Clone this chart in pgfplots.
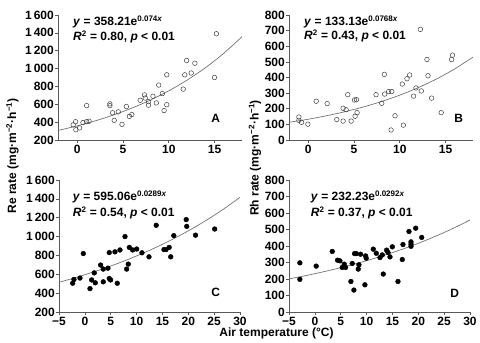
\documentclass[border=0pt]{standalone}
\usepackage{fontspec}
\setmainfont{Liberation Sans}
\usepackage{pgfplots}
\pgfplotsset{compat=1.18}

\pgfplotsset{
  panel/.style={
    scale only axis,
    axis x line*=bottom, axis y line*=left,
    axis line style={-, black!65, line width=0.6pt},
    tick style={black!65, line width=0.6pt},
    tick align=outside,
    major tick length=3pt,
    tick label style={font=\fontsize{12}{14}\selectfont\bfseries, inner sep=1pt},
    xticklabel style={yshift=-1.2pt},
    clip=false,
  },
  openm/.style={only marks, mark=o, mark size=2.3pt, mark options={draw=black!75, line width=0.5pt}},
  fillm/.style={only marks, mark=*, mark size=2.4pt, mark options={draw=black, fill=black}},
  fitc/.style={black!55, line width=0.7pt, smooth, no markers},
}
\newcommand{\bff}{\fontsize{12}{14}\selectfont\bfseries}

\begin{document}
\begin{tikzpicture}
\useasboundingbox (0,0) rectangle (480pt,343pt);

% ---------- A ----------
\begin{axis}[panel, at={(58pt,203pt)}, anchor=south west, width=184pt, height=125pt,
  xmin=-2.1, xmax=18, ymin=200, ymax=1600,
  xtick={0,5,10,15}, xticklabels={0,5,10,15},
  ytick={200,400,600,800,1000,1200,1400,1600},
  yticklabels={200,400,600,800,1\,000,1\,200,1\,400,1\,600}]
\addplot[fitc] table {
-2.1 306.7
0 358.2
2 415.3
4 481.6
6 558.4
8 647.5
10 750.8
12 870.5
14 1009.4
16 1170.4
18 1357.1
};
\addplot[openm] table {
-0.44 370
-0.18 405
-0.15 315
0.26 335
0.63 395
1.03 585
1.03 405
1.29 410
3.57 605
3.57 585
3.86 505
4.04 420
4.49 515
4.89 375
5.37 575
5.70 465
5.96 485
6.88 645
7.35 705
7.43 670
7.79 630
7.79 590
8.27 690
8.64 615
8.90 815
9.30 720
9.49 530
9.78 930
9.78 595
11.58 770
11.75 930
11.95 1090
12.45 950
12.85 1060
15.0 900
15.2 1390
};
\end{axis}

% ---------- B ----------
\begin{axis}[panel, at={(289pt,203pt)}, anchor=south west, width=184pt, height=125pt,
  xmin=-2.1, xmax=18, ymin=0, ymax=800,
  xtick={0,5,10,15}, xticklabels={0,5,10,15},
  ytick={0,100,...,800}, yticklabels={0,100,200,300,400,500,600,700,800}]
\addplot[fitc] table {
-2.1 113.3
0 133.1
2 155.2
4 181.0
6 211.1
8 246.1
10 287.0
12 334.6
14 390.1
16 454.9
18 530.5
};
\addplot[openm] table {
-1.02 147
-1.02 126
-0.73 113
-0.04 101
0.87 248
2.07 233
3.12 131
3.81 203
3.81 121
4.14 194
4.32 290
4.69 121
5.05 256
5.27 258
5.12 152
5.34 175
7.41 290
8.03 235
8.32 420
8.35 294
8.79 310
9.12 310
9.05 64
9.48 155
10.28 358
10.39 95
10.79 392
11.08 416
11.51 281
11.77 333
12.25 708
12.35 314
12.97 515
13.08 411
13.48 268
14.53 175
15.66 515
15.76 543
};
\end{axis}

% ---------- C ----------
\begin{axis}[panel, at={(59pt,31pt)}, anchor=south west, width=181pt, height=132pt,
  xmin=-5, xmax=30, ymin=200, ymax=1600,
  xtick={-5,0,...,30}, xticklabels={−5,0,5,10,15,20,25,30},
  ytick={200,400,600,800,1000,1200,1400,1600},
  yticklabels={200,400,600,800,1\,000,1\,200,1\,400,1\,600}]
\addplot[fitc] table {
-5 515.0
-2.5 553.6
0 595.1
2.5 639.6
5 687.6
7.5 739.1
10 794.5
12.5 854.0
15 917.9
17.5 986.7
20 1060.6
22.5 1140.1
25 1225.5
27.5 1317.4
30 1416.1
};
\addplot[fillm] table {
-2.36 505
-2.11 545
-0.95 560
-0.3 820
0.99 448
1.31 540
1.82 615
2.01 510
3.05 698
3.56 655
3.56 520
4.47 665
4.72 555
4.72 830
4.98 540
5.82 838
6.27 505
6.79 858
7.76 1000
8.08 655
8.4 708
8.6 885
9.24 858
10.02 868
11.04 828
12.4 785
13.8 1120
15.3 862
15.7 862
16.3 885
16.6 785
17.2 1010
19.6 1180
19.7 1108
21.4 1015
25.1 1080
};
\end{axis}

% ---------- D ----------
\begin{axis}[panel, at={(289pt,31pt)}, anchor=south west, width=181pt, height=132pt,
  xmin=-5, xmax=30, ymin=0, ymax=800,
  xtick={-5,0,...,30}, xticklabels={−5,0,5,10,15,20,25,30},
  ytick={0,100,...,800}, yticklabels={0,100,200,300,400,500,600,700,800}]
\addplot[fitc] table {
-5 200.7
-2.5 215.9
0 232.2
2.5 249.8
5 268.7
7.5 289.1
10 311.0
12.5 334.5
15 359.9
17.5 387.1
20 416.4
22.5 448.0
25 481.9
27.5 518.4
30 557.6
};
\addplot[fillm] table {
-2.9 298
-2.9 198
0.26 278
3.36 367
4.39 314
4.84 310
5.29 270
5.68 290
5.94 270
6.97 185
7.23 294
7.68 354
8.0 354
7.55 133
8.39 260
8.52 286
8.84 350
9.68 165
9.81 340
9.94 326
11.3 381
11.88 356
12.59 330
13.04 346
13.23 230
13.88 375
14.14 361
14.53 334
14.98 395
16.07 185
16.91 318
17.04 409
18.2 488
18.59 425
18.59 411
18.59 398
19.5 508
20.66 452
};
\end{axis}

% ---------- annotations ----------
\node[anchor=base west, inner sep=0pt, font=\bff] at (73pt,317pt) {\textit{y} = 358.21e\textsuperscript{0.074\textit{x}}};
\node[anchor=base west, inner sep=0pt, font=\bff] at (73pt,302.5pt) {\textit{R}\textsuperscript{2} = 0.80, \textit{p} < 0.01};
\node[anchor=base, inner sep=0pt, font=\bff] at (215.7pt,220.5pt) {A};

\node[anchor=base west, inner sep=0pt, font=\bff] at (304pt,317pt) {\textit{y} = 133.13e\textsuperscript{0.0768\textit{x}}};
\node[anchor=base west, inner sep=0pt, font=\bff] at (304pt,303pt) {\textit{R}\textsuperscript{2} = 0.43, \textit{p} < 0.01};
\node[anchor=base, inner sep=0pt, font=\bff] at (458.7pt,220pt) {B};

\node[anchor=base west, inner sep=0pt, font=\bff] at (72.7pt,142pt) {\textit{y} = 595.06e\textsuperscript{0.0289\textit{x}}};
\node[anchor=base west, inner sep=0pt, font=\bff] at (72.7pt,126pt) {\textit{R}\textsuperscript{2} = 0.54, \textit{p} < 0.01};
\node[anchor=base, inner sep=0pt, font=\bff] at (215.7pt,46.5pt) {C};

\node[anchor=base west, inner sep=0pt, font=\bff] at (310.7pt,142pt) {\textit{y} = 232.23e\textsuperscript{0.0292\textit{x}}};
\node[anchor=base west, inner sep=0pt, font=\bff] at (310.7pt,126pt) {\textit{R}\textsuperscript{2} = 0.37, \textit{p} < 0.01};
\node[anchor=base, inner sep=0pt, font=\bff] at (454.7pt,45.5pt) {D};

\node[rotate=90, inner sep=0pt, font=\bff] at (12.5pt,187pt) {Re rate (mg·m\textsuperscript{−2}·h\textsuperscript{−1})};
\node[rotate=90, inner sep=0pt, font=\bff] at (255pt,185pt) {Rh rate (mg·m\textsuperscript{−2}·h\textsuperscript{−1})};
\node[anchor=base, inner sep=0pt, font=\bff] at (276.5pt,6pt) {Air temperature (°C)};
\end{tikzpicture}
\end{document}
